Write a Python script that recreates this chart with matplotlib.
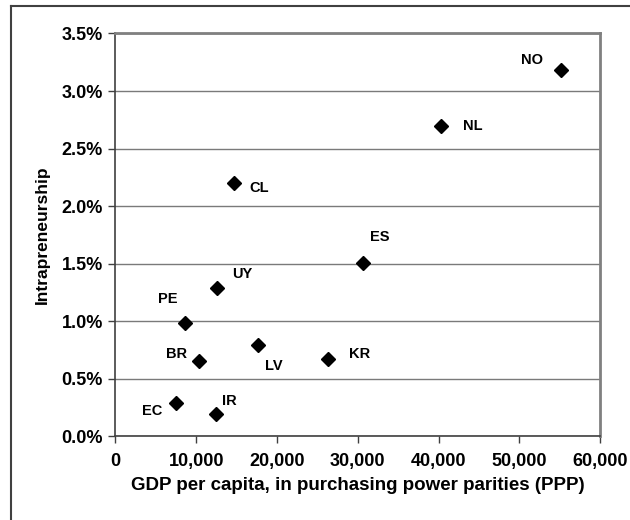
import matplotlib
matplotlib.use("Agg")
import matplotlib.pyplot as plt
from matplotlib.lines import Line2D
from matplotlib.ticker import FuncFormatter, MultipleLocator

plt.rcParams['font.family'] = ['Liberation Sans', 'DejaVu Sans']
plt.rcParams['font.weight'] = 'bold'

countries = ['NO', 'NL', 'CL', 'ES', 'UY', 'PE', 'BR', 'LV', 'KR', 'EC', 'IR']
gdp = [55200, 40250, 14700, 30650, 12550, 8600, 10330, 17650, 26300, 7500, 12400]
intra = [3.18, 2.70, 2.205, 1.51, 1.285, 0.98, 0.652, 0.795, 0.675, 0.29, 0.197]
# label offsets in pixels (dx, dy)
offsets = [(-29, 10), (32, 0), (25, -5), (17, 26), (25, 14), (-17, 24),
           (-22, 7), (16, -21), (32, 5), (-24, -8), (14, 13)]

fig = plt.figure(figsize=(6.3, 5.2), dpi=100)
ax = fig.add_axes([0.1833, 0.161, 0.9524 - 0.1833, 0.9356 - 0.161])

ax.plot(gdp, intra, linestyle='none', marker='D', color='black', markersize=6.8)
for c, x, y, (dx, dy) in zip(countries, gdp, intra, offsets):
    ax.annotate(c, (x, y), xytext=(dx * 0.72, dy * 0.72), textcoords='offset points',
                ha='center', va='center', fontsize=10.5, fontweight='bold')

ax.set_xlim(0, 60000)
ax.set_ylim(0, 3.5)
ax.xaxis.set_major_locator(MultipleLocator(10000))
ax.yaxis.set_major_locator(MultipleLocator(0.5))
ax.xaxis.set_major_formatter(FuncFormatter(lambda v, p: '{:,.0f}'.format(v)))
ax.yaxis.set_major_formatter(FuncFormatter(lambda v, p: '{:.1f}%'.format(v)))
ax.grid(axis='y', color='#7a7a7a', linewidth=1)
ax.set_axisbelow(True)
ax.tick_params(direction='out', length=5, width=1, color='#404040', labelsize=13)
ax.tick_params(axis='x', pad=7)
ax.tick_params(axis='y', pad=4)

for s in ['top', 'right']:
    ax.spines[s].set_color('#808080')
    ax.spines[s].set_linewidth(2)
for s in ['left', 'bottom']:
    ax.spines[s].set_color('#404040')
    ax.spines[s].set_linewidth(1.2)

ax.set_xlabel('GDP per capita, in purchasing power parities (PPP)', fontsize=13.5,
              fontweight='bold', labelpad=5)
ax.set_ylabel('Intrapreneurship', fontsize=12.5, fontweight='bold', labelpad=8)

# outer frame (only top and left visible in the crop)
fig.add_artist(Line2D([10.5 / 630, 10.5 / 630], [0, 1 - 6 / 520], color='#404040', linewidth=1.5))
fig.add_artist(Line2D([10.5 / 630, 1], [1 - 6 / 520, 1 - 6 / 520], color='#404040', linewidth=1.5))

fig.savefig('out.png', dpi=100)
